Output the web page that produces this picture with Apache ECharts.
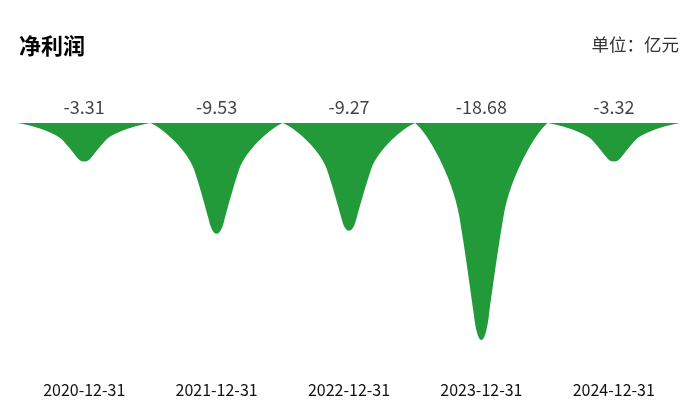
<!DOCTYPE html>
<html>
<head>
<meta charset="utf-8">
<script src="https://cdn.jsdelivr.net/npm/echarts@6/dist/echarts.min.js"></script>
<style>
html,body{margin:0;padding:0;background:#fff;}
#c{width:697px;height:417px;}
</style>
</head>
<body>
<div id="c"></div>
<script>
var categories = ['2020-12-31', '2021-12-31', '2022-12-31', '2023-12-31', '2024-12-31'];
var values = [-3.31, -9.53, -9.27, -18.68, -3.32];
var titleText = '净利润';
var unitText = '单位：亿元';

var FONT = '"Noto Sans CJK SC", "Noto Sans", sans-serif';
var spike = 'path://M0,100 L100,100 C90,95 72,75 67,58 C62.5,42 58.5,24 56,13 C54.5,5 52.5,0 50,0 C47.5,0 45.5,5 44,13 C41.5,24 37.5,42 33,58 C28,75 10,95 0,100 Z';

var chart = echarts.init(document.getElementById('c'));
chart.setOption({
  animation: false,
  title: [
    { text: titleText, left: 14, top: 30, textStyle: { fontSize: 22, fontWeight: 'bold', color: '#000', fontFamily: FONT } },
    { text: unitText, right: 13, top: 31, textStyle: { fontSize: 17.5, fontWeight: 'normal', color: '#333', fontFamily: FONT } }
  ],
  grid: { left: 18, right: 17, top: 123, bottom: 42 },
  xAxis: {
    type: 'category',
    data: categories,
    axisLine: { show: false },
    axisTick: { show: false },
    axisLabel: { fontSize: 16, color: '#111', fontFamily: FONT, margin: 7 }
  },
  yAxis: {
    type: 'value',
    min: -21.7,
    max: 0,
    show: false
  },
  series: [
    {
      type: 'pictorialBar',
      symbol: spike,
      barCategoryGap: '0%',
      itemStyle: { color: '#229a3a' },
      data: values,
      z: 2
    },
    {
      type: 'scatter',
      symbolSize: 0,
      data: values.map(function () { return 0; }),
      label: {
        show: true,
        position: 'top',
        distance: 7,
        fontSize: 18,
        color: '#111',
        fontFamily: FONT,
        formatter: function (p) { return values[p.dataIndex].toFixed(2); }
      },
      z: 3
    }
  ]
});
</script>
</body>
</html>
